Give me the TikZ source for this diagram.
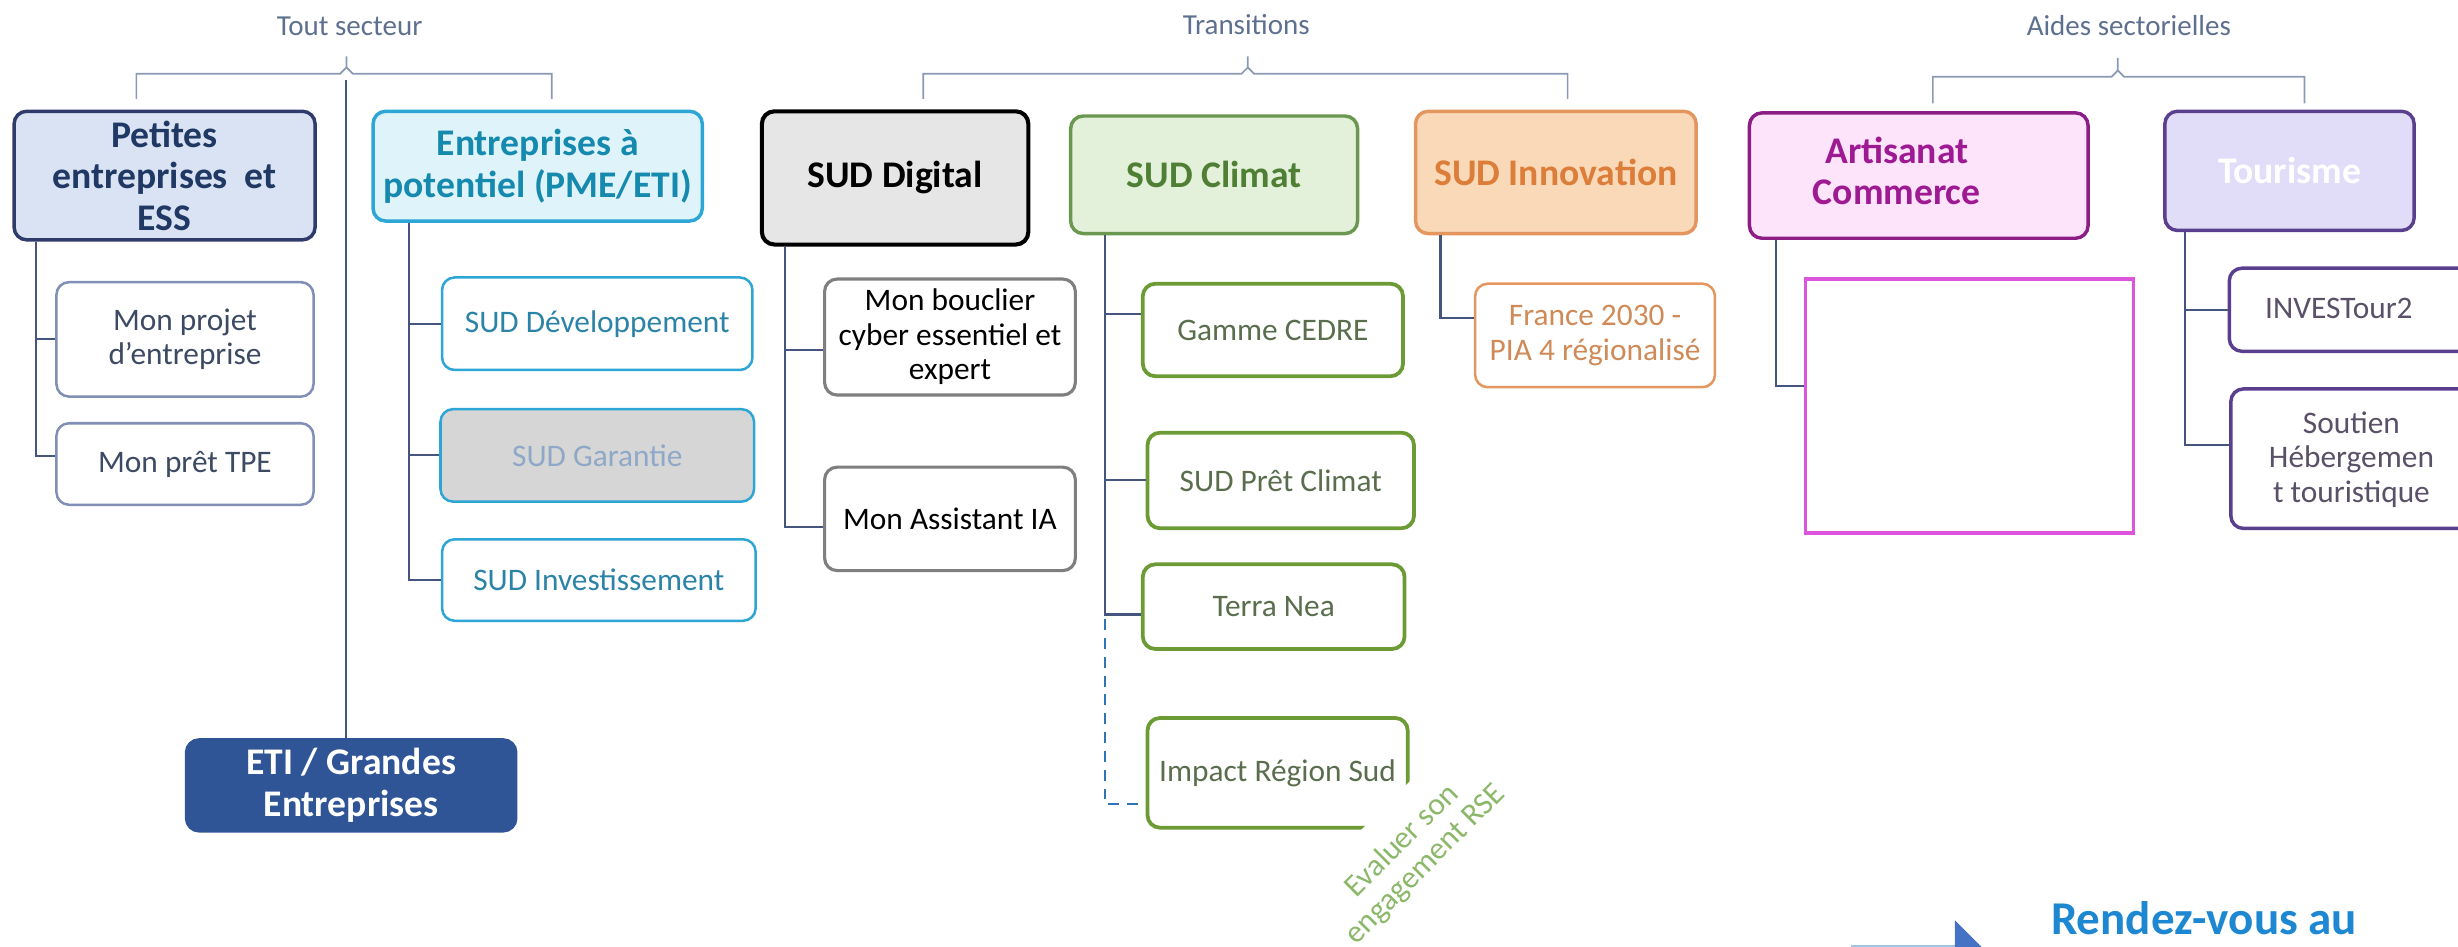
\documentclass[tikz,border=0pt]{standalone}
\usepackage{fontspec}
\setmainfont{Carlito}
\usepackage{xcolor}
\usepackage{tikz}
\usetikzlibrary{calc}

\definecolor{petfill}{HTML}{DAE3F3}
\definecolor{petline}{HTML}{2F3B6B}
\definecolor{pettext}{HTML}{1F3864}
\definecolor{entfill}{HTML}{DEF3FA}
\definecolor{entline}{HTML}{2EA6D5}
\definecolor{enttext}{HTML}{168AAE}
\definecolor{sudtext}{HTML}{2C83A8}
\definecolor{garfill}{HTML}{D6D6D6}
\definecolor{gartext}{HTML}{8FA8C8}
\definecolor{smline}{HTML}{7F8FB5}
\definecolor{smtext}{HTML}{3D4A63}
\definecolor{etiblue}{HTML}{2F5597}
\definecolor{digfill}{HTML}{E6E6E6}
\definecolor{leafgray}{HTML}{7F7F7F}
\definecolor{climfill}{HTML}{E3F0DA}
\definecolor{climline}{HTML}{6A9850}
\definecolor{climtext}{HTML}{4F7F35}
\definecolor{greenline}{HTML}{6C9B36}
\definecolor{greentext}{HTML}{5A6E4D}
\definecolor{innofill}{HTML}{F9D9B8}
\definecolor{innoline}{HTML}{E4965E}
\definecolor{innotext}{HTML}{DC7E3A}
\definecolor{francetext}{HTML}{D08A58}
\definecolor{artfill}{HTML}{FDE4FA}
\definecolor{artline}{HTML}{8C1C86}
\definecolor{arttext}{HTML}{9E1A93}
\definecolor{pinkline}{HTML}{DD55DD}
\definecolor{tourfill}{HTML}{E1DDF8}
\definecolor{tourline}{HTML}{5B3F8F}
\definecolor{tourtext}{HTML}{5A5068}
\definecolor{connblue}{HTML}{45557F}
\definecolor{bracegray}{HTML}{8A9AB5}
\definecolor{lblgray}{HTML}{5E7090}
\definecolor{dashblue}{HTML}{2E75B6}
\definecolor{evalgreen}{HTML}{8CB86A}
\definecolor{rdvblue}{HTML}{1E87D2}
\definecolor{arrowlight}{HTML}{9DC3E6}
\definecolor{arrowblue}{HTML}{4472C4}

\tikzset{
  box/.style={draw, rounded corners=8pt, align=center, line width=1.6pt},
  headbox/.style={box, line width=2.2pt, font=\fontsize{24}{26.5}\selectfont\bfseries},
  leafbox/.style={box, fill=white, font=\fontsize{20}{22}\selectfont},
  leaftxt/.style={align=center, font=\fontsize{20}{22}\selectfont},
  grouplbl/.style={text=lblgray, font=\fontsize{18.5}{20}\selectfont},
  conn/.style={draw=connblue, line width=1.3pt},
  dashconn/.style={draw=dashblue, line width=1.6pt, dash pattern={on 7pt off 5pt}},
  brace/.style={draw=bracegray, line width=1.1pt},
}

\begin{document}
\begin{tikzpicture}[x=1pt,y=1pt,yscale=-1]
\useasboundingbox (0,0) rectangle (1568,604);
\clip (0,0) rectangle (1568,604);

% Tout secteur
\node[grouplbl] (toutlbl) at (223,17) {Tout secteur};
\draw[brace] (87,63) -- (87,47) -- (217,47) -- (221,43) -- (221,36);
\draw[brace] (352,63) -- (352,47) -- (225,47) -- (221,43);

\node[headbox, fill=petfill, draw=petline, text=pettext, minimum width=192pt, minimum height=82pt] (petites) at (105,112) {Petites\\entreprises\ \ et\\ESS};
\node[headbox, fill=entfill, draw=entline, text=enttext, minimum width=210pt, minimum height=70pt] (entre) at (343,106) {Entreprises à\\potentiel (PME/ETI)};

\node[leafbox, draw=smline, text=smtext, minimum width=164pt, minimum height=73pt] (projet) at (118,216.5) {Mon projet\\d’entreprise};
\node[leafbox, draw=smline, text=smtext, minimum width=164pt, minimum height=52pt] (pret) at (118,296) {Mon prêt TPE};
\node[leafbox, draw=entline, text=sudtext, minimum width=198pt, minimum height=59pt] (sdev) at (381,206.5) {SUD Développement};
\node[leafbox, draw=entline, fill=garfill, text=gartext, minimum width=200pt, minimum height=59pt] (sgar) at (381,290.5) {SUD Garantie};
\node[leafbox, draw=entline, text=sudtext, minimum width=200pt, minimum height=52pt] (sinv) at (382,370) {SUD Investissement};
\node[headbox, fill=etiblue, draw=etiblue, text=white, minimum width=210pt, minimum height=58pt] (eti) at (224,501) {ETI / Grandes\\Entreprises};

\coordinate (toutstem) at (221,51);
\draw[conn] (toutstem) -- (toutstem |- eti.north);
\draw[conn] ($(petites.south west)+(15,0)$) |- (projet.west);
\draw[conn] ($(petites.south west)+(15,0)$) |- ($(pret.west)+(0,-5)$);
\draw[conn] ($(entre.south west)+(24,0)$) |- (sdev.west);
\draw[conn] ($(entre.south west)+(24,0)$) |- (sgar.west);
\draw[conn] ($(entre.south west)+(24,0)$) |- (sinv.west);

% Transitions
\node[grouplbl] (translbl) at (795,16) {Transitions};
\draw[brace] (589,63) -- (589,47) -- (792,47) -- (796,43) -- (796,36);
\draw[brace] (1000,63) -- (1000,47) -- (800,47) -- (796,43);

\node[headbox, fill=digfill, draw=black, text=black, line width=2.6pt, minimum width=170pt, minimum height=85pt] (digital) at (571,113.5) {SUD Digital};
\node[headbox, fill=climfill, draw=climline, text=climtext, minimum width=183pt, minimum height=75pt] (climat) at (774.5,111.5) {SUD Climat};
\node[headbox, fill=innofill, draw=innoline, text=innotext, minimum width=179pt, minimum height=78pt] (innov) at (992.5,110) {SUD Innovation};

\node[leafbox, draw=leafgray, text=black, line width=2pt, minimum width=160pt, minimum height=74pt] (bouclier) at (606,215) {Mon bouclier\\cyber essentiel et\\expert};
\node[leafbox, draw=leafgray, text=black, line width=2pt, minimum width=160pt, minimum height=66pt] (assist) at (606,331) {Mon Assistant IA};
\node[leafbox, draw=greenline, text=greentext, line width=2.4pt, minimum width=166pt, minimum height=59pt] (cedre) at (812,210.5) {Gamme CEDRE};
\node[leafbox, draw=greenline, text=greentext, line width=2.4pt, minimum width=170pt, minimum height=61pt] (pretcl) at (817,306.5) {SUD Prêt Climat};
\node[leafbox, draw=greenline, text=greentext, line width=2.4pt, minimum width=167pt, minimum height=54pt] (terra) at (812.5,387) {Terra Nea};
\node[leafbox, draw=greenline, text=greentext, line width=2.4pt, minimum width=166pt, minimum height=70pt] (impact) at (815,493) {Impact Région Sud};
\node[leafbox, draw=innoline, text=francetext, minimum width=153pt, minimum height=66pt] (france) at (1017.5,214) {France 2030 -\\PIA 4 régionalisé};

\coordinate (climtrunk) at ($(climat.south west)+(23,0)$);
\draw[conn] ($(digital.south west)+(16,0)$) |- ($(bouclier.west)+(0,8)$);
\draw[conn] ($(digital.south west)+(16,0)$) |- ($(assist.west)+(0,5)$);
\draw[conn] (climtrunk) |- ($(cedre.west)+(0,-10)$);
\draw[conn] (climtrunk) |- (pretcl.west);
\draw[conn] (climtrunk) |- ($(terra.west)+(0,5)$);
\draw[dashconn] ($(climtrunk |- terra.west)+(0,8)$) |- ($(impact.west)+(0,20)$);
\draw[conn] ($(innov.south west)+(17,0)$) |- ($(france.west)+(0,-11)$);

\node[rotate=45, fill=white, text=evalgreen, align=center, inner sep=15pt, font=\fontsize{20}{21}\selectfont] (evaluer) at (902,544) {Evaluer son\\engagement RSE};

% Aides sectorielles
\node[grouplbl] (aideslbl) at (1358,16) {Aides sectorielles};
\draw[brace] (1233,66) -- (1233,49) -- (1347,49) -- (1351,45) -- (1351,37);
\draw[brace] (1470,66) -- (1470,49) -- (1355,49) -- (1351,45);

\node[headbox, fill=artfill, draw=artline, minimum width=216pt, minimum height=80pt] (artisanat) at (1224,112) {};
\node[text=arttext, align=center, font=\fontsize{24}{26.5}\selectfont\bfseries] (arttxt) at (1210,109) {Artisanat\\Commerce};
\node[draw=pinkline, line width=2pt, fill=white, minimum width=209pt, minimum height=162pt] (pinkbox) at (1256.5,259) {};
\draw[conn] ($(artisanat.south west)+(18,0)$) |- ($(pinkbox.west)+(0,-13)$);

\node[headbox, fill=tourfill, draw=tourline, text=white, minimum width=159pt, minimum height=76pt] (tourisme) at (1460.5,109) {Tourisme};
\node[box, draw=tourline, fill=white, line width=2.2pt, minimum width=180pt, minimum height=53pt, anchor=north west] (invest) at (1421,170) {};
\node[leaftxt, text=tourtext] (investtxt) at (1492,197) {INVESTour2};
\node[box, draw=tourline, fill=white, line width=2.2pt, minimum width=180pt, minimum height=89pt, anchor=north west] (soutien) at (1422,247) {};
\node[leaftxt, text=tourtext] (soutientxt) at (1500,293) {Soutien\\Hébergemen\\t touristique};
\draw[conn] ($(tourisme.south west)+(14,0)$) |- (invest.west);
\draw[conn] ($(tourisme.south west)+(14,0)$) |- ($(soutien.west)+(0,-8.5)$);

% Rendez-vous
\fill[arrowlight] (1181,603) rectangle (1247,640);
\fill[arrowblue] (1247,587) -- (1290,630) -- (1247,673) -- cycle;
\node[text=rdvblue, anchor=base, font=\fontsize{30}{32}\selectfont\bfseries] (rdv) at (1406,596) {Rendez-vous au};

\end{tikzpicture}
\end{document}
